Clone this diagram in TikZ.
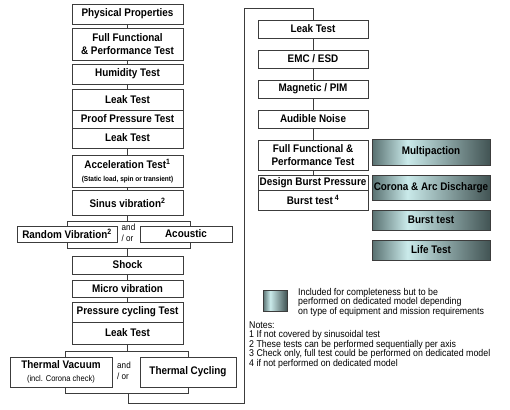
\documentclass[tikz,border=0pt]{standalone}
\usepackage{fontspec}
\setmainfont{Liberation Sans}[FakeStretch=0.9]
\newfontfamily\lblfont{Liberation Sans}[FakeStretch=0.9]
\newcommand\lbl{\lblfont\bfseries\fontsize{11bp}{13.5bp}\selectfont}
\newcommand\smallbold{\lblfont\bfseries\fontsize{7.2bp}{8bp}\selectfont}
\newcommand\smallreg{\lblfont\mdseries\fontsize{8.4bp}{10bp}\selectfont}
\newcommand\noteft{\lblfont\fontsize{9.8bp}{10bp}\selectfont}
\definecolor{gdl}{RGB}{88,112,112}
\definecolor{glt}{RGB}{202,234,234}
\definecolor{gdr}{RGB}{66,84,84}
\definecolor{edge}{RGB}{60,60,60}
\pgfdeclarehorizontalshading{gshade}{100bp}{color(0bp)=(gdl); color(25bp)=(gdl); color(40bp)=(glt); color(75bp)=(gdr); color(100bp)=(gdr)}
\tikzset{
  box/.style={draw=edge, line width=0.6bp, fill=white, inner sep=0pt, align=center, font=\lbl},
  lbox/.style={box, minimum width=111bp},
  rbox/.style={box, minimum width=110bp},
  gbox/.style={draw=edge, line width=0.6bp, shading=gshade, inner sep=0pt, align=center, font=\lbl, minimum width=118bp},
  conn/.style={draw=edge, line width=0.6bp},
  txt/.style={inner sep=0pt, anchor=west, font=\noteft},
  andor/.style={inner sep=0pt, font=\lblfont\fontsize{9bp}{10.5bp}\selectfont, align=left},
}
\begin{document}
\begin{tikzpicture}[x=1bp,y=-1bp]
\useasboundingbox (0,0) rectangle (510,409);
% left column
\node[lbox, minimum height=20bp] (pp) at (127.5,14) {Physical Properties};
\node[lbox, minimum height=32bp] (ff) at (127.5,44) {Full Functional\\\& Performance Test};
\node[lbox, minimum height=20bp] (hu) at (127.5,74) {Humidity Test};
\node[lbox, minimum height=21bp] (lk1) at (127.5,99.5) {Leak Test};
\node[lbox, minimum height=18bp] (pr) at (127.5,119) {Proof Pressure Test};
\node[lbox, minimum height=20bp] (lk2) at (127.5,138) {Leak Test};
\node[lbox, minimum height=32bp] (acc) at (127.5,171) {Acceleration Test\textsuperscript{1}\\[-1bp]{\smallbold(Static load, spin or transient)}};
\node[lbox, minimum height=25bp] (sin) at (127.5,202.5) {Sinus vibration\textsuperscript{2}};
\node[box, minimum width=100bp, minimum height=16bp] (rv) at (67,234) {Random Vibration\textsuperscript{2}};
\node[box, minimum width=92bp, minimum height=16bp] (ac) at (186,234) {Acoustic};
\node[andor] (ao1) at (128.5,233) {and\\/ or};
\node[lbox, minimum height=18bp] (sh) at (127.5,265) {Shock};
\node[lbox, minimum height=17bp] (mv) at (127.5,288.5) {Micro vibration};
\node[lbox, minimum height=20bp] (pc) at (127.5,312) {Pressure cycling Test};
\node[lbox, minimum height=22bp] (lk4) at (127.5,333) {Leak Test};
\node[box, minimum width=102bp, minimum height=30bp] (tv) at (61,372) {Thermal Vacuum\\{\smallreg(incl. Corona check)}};
\node[box, minimum width=96bp, minimum height=30bp] (tc) at (188,372) {Thermal Cycling};
\node[andor] (ao2) at (124,371) {and\\/ or};
% right column
\node[rbox, minimum height=18bp] (lk3) at (313,29) {Leak Test};
\node[rbox, minimum height=18bp] (emc) at (313,59) {EMC / ESD};
\node[rbox, minimum height=18bp] (mag) at (313,89) {Magnetic / PIM};
\node[rbox, minimum height=18bp] (an) at (313,119) {Audible Noise};
\node[rbox, minimum height=30bp] (ff2) at (313,155) {Full Functional \&\\Performance Test};
\node[rbox, minimum height=15bp] (dbp) at (313,182.5) {Design Burst Pressure};
\node[rbox, minimum height=20bp] (bt) at (313,200) {Burst test\,\textsuperscript{4}};
% gray boxes
\node[gbox, minimum height=26bp] (mp) at (431,152) {Multipaction};
\node[gbox, minimum height=25bp] (cor) at (431,187.5) {Corona \& Arc Discharge};
\node[gbox, minimum height=20bp] (gbt) at (431,220) {Burst test};
\node[gbox, minimum height=20bp] (lt) at (431,250) {Life Test};
% legend
\node[draw=edge, line width=0.6bp, shading=gshade, minimum width=24bp, minimum height=21bp, inner sep=0pt] (leg) at (275,301) {};
\node[txt, align=left, anchor=north west, font=\lblfont\fontsize{9.8bp}{9.6bp}\selectfont] (legt) at (298,288) {Included for completeness but to be\\performed on dedicated model depending\\on type of equipment and mission requirements};
\node[txt] (n0) at (249,325) {Notes:};
\node[txt] (n1) at (249,335) {1 If not covered by sinusoidal test};
\node[txt] (n2) at (249,344.5) {2 These tests can be performed sequentially per axis};
\node[txt] (n3) at (249,354) {3 Check only, full test could be performed on dedicated model};
\node[txt] (n4) at (249,364) {4 if not performed on dedicated model};
% connectors left
\draw[conn] (pp.south) -- (ff.north);
\draw[conn] (ff.south) -- (hu.north);
\draw[conn] (hu.south) -- (lk1.north);
\draw[conn] (lk2.south) -- (acc.north);
\draw[conn] (acc.south) -- (sin.north);
\coordinate (b1l) at (67,221);
\coordinate (b1r) at (190,221);
\coordinate (b2l) at (67,248);
\coordinate (b2r) at (190,248);
\draw[conn] (sin.south) -- (sin.south |- b1l);
\draw[conn] (b1l |- rv.north) -- (b1l) -- (b1r) -- (b1r |- ac.north);
\draw[conn] (b2l |- rv.south) -- (b2l) -- (b2r) -- (b2r |- ac.south);
\draw[conn] (sh.north |- b2l) -- (sh.north);
\draw[conn] (sh.south) -- (mv.north);
\draw[conn] (mv.south) -- (pc.north);
\coordinate (b3l) at (65,351);
\coordinate (b3r) at (188,351);
\coordinate (b4l) at (65,393);
\coordinate (b4r) at (188,393);
\draw[conn] (lk4.south) -- (lk4.south |- b3l);
\draw[conn] (b3l |- tv.north) -- (b3l) -- (b3r) -- (b3r |- tc.north);
\draw[conn] (b4l |- tv.south) -- (b4l) -- (b4r) -- (b4r |- tc.south);
\coordinate (c0) at (128,393);
\coordinate (c1) at (244,403);
\coordinate (c2) at (244,8);
\draw[conn] (c0) -- (c0 |- c1) -- (c1) -- (c2) -- (c2 -| lk3.north) -- (lk3.north);
% connectors right
\draw[conn] (lk3.south) -- (emc.north);
\draw[conn] (emc.south) -- (mag.north);
\draw[conn] (mag.south) -- (an.north);
\draw[conn] (an.south) -- (ff2.north);
\draw[conn] (ff2.south) -- (dbp.north);
\end{tikzpicture}
\end{document}
